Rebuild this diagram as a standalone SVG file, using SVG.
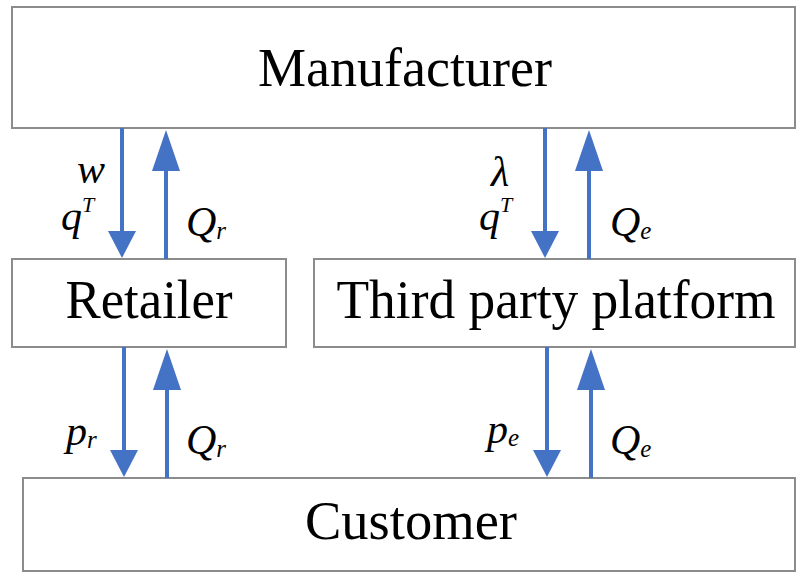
<svg xmlns="http://www.w3.org/2000/svg" width="802" height="575" viewBox="0 0 802 575">
<style>
.box{fill:#fff;stroke:#8c8c8c;stroke-width:2}
.t{font-family:'Liberation Serif','Times New Roman','DejaVu Serif',serif;font-size:54px;fill:#000;text-anchor:middle}
.m{font-family:'Liberation Serif','Times New Roman','DejaVu Serif',serif;font-style:italic;font-size:42px;fill:#000}
.s{font-size:25px}
.sup{font-size:22px}
.ln{stroke:#4472C4;stroke-width:4;fill:none}
.hd{fill:#4472C4}
</style>
<rect width="802" height="575" fill="#fff"/>
<g id="manufacturer"><rect class="box" x="12" y="7" width="783" height="121"/><text class="t" x="405" y="86" textLength="294" lengthAdjust="spacingAndGlyphs">Manufacturer</text></g>
<g id="retailer"><rect class="box" x="12" y="259" width="274" height="88"/><text class="t" x="149" y="318" textLength="167" lengthAdjust="spacingAndGlyphs">Retailer</text></g>
<g id="platform"><rect class="box" x="314" y="259" width="481" height="88"/><text class="t" x="556" y="318" textLength="439" lengthAdjust="spacingAndGlyphs">Third party platform</text></g>
<g id="customer"><rect class="box" x="23" y="478" width="772" height="93"/><text class="t" x="411" y="539" textLength="212" lengthAdjust="spacingAndGlyphs">Customer</text></g>
<g id="connectors">
<line class="ln" x1="122" y1="128" x2="122" y2="232"/><polygon class="hd" points="108,231 136,231 122,258"/>
<line class="ln" x1="166" y1="259" x2="166" y2="168"/><polygon class="hd" points="152,171 180,171 166,130"/>
<line class="ln" x1="545" y1="128" x2="545" y2="232"/><polygon class="hd" points="531,231 559,231 545,258"/>
<line class="ln" x1="589" y1="259" x2="589" y2="168"/><polygon class="hd" points="575,171 603,171 589,130"/>
<line class="ln" x1="124" y1="347" x2="124" y2="452"/><polygon class="hd" points="110,450 138,450 124,477"/>
<line class="ln" x1="167" y1="478" x2="167" y2="388"/><polygon class="hd" points="153,390 181,390 167,349"/>
<line class="ln" x1="547" y1="347" x2="547" y2="452"/><polygon class="hd" points="533,450 561,450 547,477"/>
<line class="ln" x1="591" y1="478" x2="591" y2="388"/><polygon class="hd" points="577,390 605,390 591,349"/>
</g>
<g id="labels">
<text class="m" x="77" y="183">w</text>
<text class="m" x="61" y="230">q<tspan class="sup" dy="-18">T</tspan></text>
<text class="m" x="186" y="236">Q<tspan class="s" dy="3">r</tspan></text>
<text class="m" x="491" y="186">λ</text>
<text class="m" x="479" y="230">q<tspan class="sup" dy="-18">T</tspan></text>
<text class="m" x="610" y="236">Q<tspan class="s" dy="3">e</tspan></text>
<text class="m" x="66" y="445">p<tspan class="s" dy="3">r</tspan></text>
<text class="m" x="186" y="454">Q<tspan class="s" dy="3">r</tspan></text>
<text class="m" x="487" y="443">p<tspan class="s" dy="3">e</tspan></text>
<text class="m" x="610" y="454">Q<tspan class="s" dy="3">e</tspan></text>
</g>
</svg>
